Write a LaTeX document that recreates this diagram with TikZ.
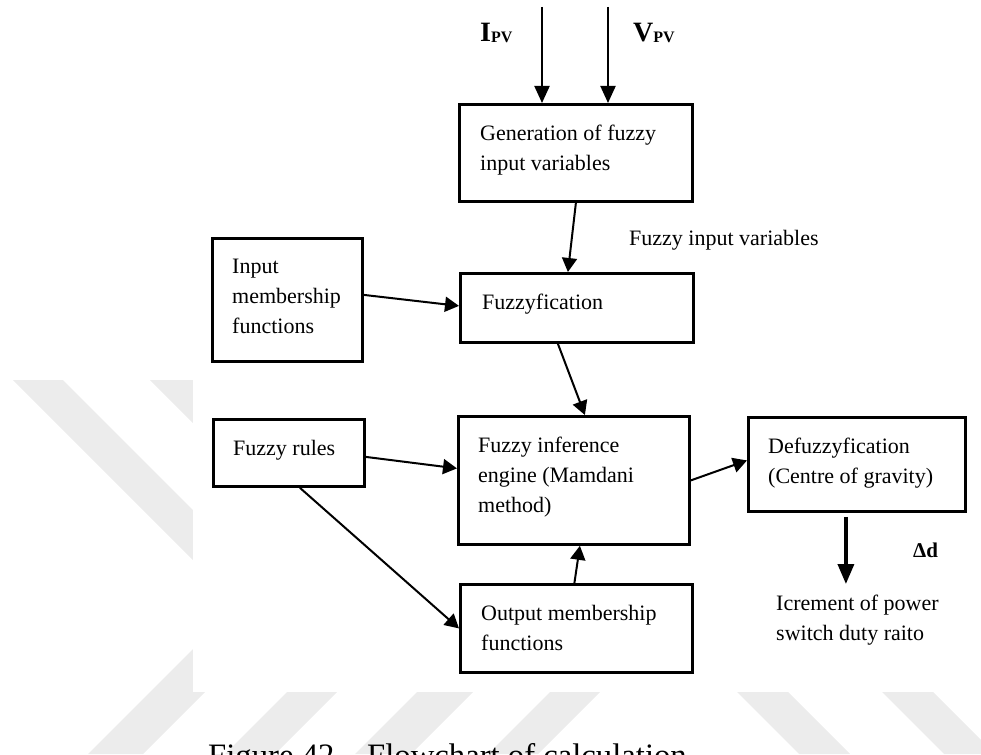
\documentclass[tikz,border=0pt]{standalone}
\usepackage{fontspec}
\setmainfont{Liberation Serif}
\usetikzlibrary{arrows.meta}
\definecolor{wmark}{gray}{0.925}
\tikzset{
  blk/.style={draw, line width=2.8pt, anchor=north west, inner sep=0pt},
  blktxt/.style={anchor=north west, align=left, inner sep=0pt, font=\fontsize{22}{30}\selectfont},
  lbl/.style={inner sep=0pt, font=\fontsize{22}{30}\selectfont},
  flow/.style={->, line width=2pt},
}
\begin{document}
\begin{tikzpicture}[x=1pt, y=-1pt, >={Triangle[length=14pt,width=15pt]}]
\useasboundingbox (0,0) rectangle (981,754);
\clip (0,0) rectangle (981,754);
% background stripes
\fill[wmark] (13,380) -- (63,380) -- (263,580) -- (213,580) -- cycle;
\fill[wmark] (150,380) -- (200,380) -- (300,480) -- (250,480) -- cycle;
\fill[wmark] (88,754) -- (143,754) -- (257,640) -- (202,640) -- cycle;
\fill[wmark] (225,754) -- (275,754) -- (400,629) -- (350,629) -- cycle;
\fill[wmark] (355,754) -- (411,754) -- (536,629) -- (480,629) -- cycle;
\fill[wmark] (488,754) -- (538,754) -- (663,629) -- (613,629) -- cycle;
\fill[wmark] (737,692) -- (788,692) -- (850,754) -- (799,754) -- cycle;
\fill[wmark] (882,692) -- (933,692) -- (995,754) -- (944,754) -- cycle;
\fill[white] (193,0) rectangle (981,692);

% blocks
\node[blk, minimum width=233pt, minimum height=97pt] (gen) at (458,103) {};
\node[blktxt] (gentxt) at ([xshift=22pt,yshift=-22pt]gen.north west) {Generation of fuzzy\\input variables};
\node[blk, minimum width=150pt, minimum height=123pt] (inmf) at (211,237) {};
\node[blktxt] (inmftxt) at ([xshift=21pt,yshift=-22pt]inmf.north west) {Input\\membership\\functions};
\node[blk, minimum width=233pt, minimum height=69pt] (fuzz) at (459,272) {};
\node[blktxt] (fuzztxt) at ([xshift=23pt,yshift=-22pt]fuzz.north west) {Fuzzyfication};
\node[blk, minimum width=151pt, minimum height=67pt] (rules) at (212,418) {};
\node[blktxt] (rulestxt) at ([xshift=21pt,yshift=-22pt]rules.north west) {Fuzzy rules};
\node[blk, minimum width=231pt, minimum height=128pt] (infer) at (457,415) {};
\node[blktxt] (infertxt) at ([xshift=21pt,yshift=-22pt]infer.north west) {Fuzzy inference\\engine (Mamdani\\method)};
\node[blk, minimum width=217pt, minimum height=94pt] (defuzz) at (747,416) {};
\node[blktxt] (defuzztxt) at ([xshift=21pt,yshift=-22pt]defuzz.north west) {Defuzzyfication\\(Centre of gravity)};
\node[blk, minimum width=232pt, minimum height=88pt] (outmf) at (459,583) {};
\node[blktxt] (outmftxt) at ([xshift=22pt,yshift=-22pt]outmf.north west) {Output membership\\functions};

% labels
\node[anchor=base west, inner sep=0pt] (ipv) at (480,42) {\fontsize{28}{28}\selectfont\bfseries I\raisebox{-1pt}{\fontsize{16}{16}\selectfont PV}};
\node[anchor=base west, inner sep=0pt] (vpv) at (633,42) {\fontsize{28}{28}\selectfont\bfseries V\raisebox{-1pt}{\fontsize{16}{16}\selectfont PV}};
\node[lbl, anchor=base west] (fiv) at (629,245) {Fuzzy input variables};
\node[lbl, anchor=base west, font=\fontsize{21}{21}\selectfont\bfseries] (dd) at (913,557) {Δd};
\node[blktxt] (incr) at (776,595) {Icrement of power\\switch duty raito};
\node[anchor=base west, inner sep=0pt, font=\fontsize{32.7}{36}\selectfont] (cap) at (208,766) {Figure 42 – Flowchart of calculation};

% connectors
\coordinate (ipvtop) at (542,7);
\coordinate (vpvtop) at (608,7);
\draw[flow, >={Triangle[length=17pt,width=15pt]}] (ipvtop) -- (ipvtop |- gen.north);
\draw[flow, >={Triangle[length=17pt,width=15pt]}] (vpvtop) -- (vpvtop |- gen.north);
\draw[flow] (gen.south) -- ([xshift=-9pt]fuzz.north);
\draw[flow] ([yshift=5pt]inmf.east) -- ([yshift=2pt]fuzz.west);
\draw[flow] ([xshift=-19pt]fuzz.south) -- ([xshift=11pt]infer.north);
\draw[flow] ([yshift=-4pt]rules.east) -- ([yshift=12pt]infer.west);
\draw[flow] ([xshift=11pt]rules.south) -- (outmf.west);
\draw[flow] ([xshift=-2pt]outmf.north) -- ([xshift=6pt]infer.south);
\draw[flow] (infer.east) -- ([yshift=4pt]defuzz.west);
\coordinate (ddtop) at ([xshift=-11pt,yshift=-4pt]defuzz.south);
\draw[->, line width=3.5pt, >={Triangle[length=20pt,width=16pt]}] (ddtop) -- ([yshift=11pt]ddtop |- incr.north);
\end{tikzpicture}
\end{document}
